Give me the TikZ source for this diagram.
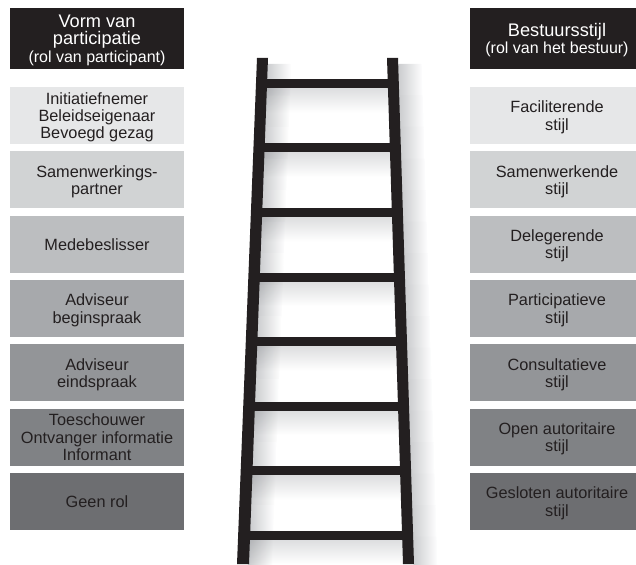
\documentclass[tikz,border=0pt]{standalone}
\usepackage{fontspec}
\setmainfont{Liberation Sans}
\definecolor{ink}{HTML}{231F20}
\definecolor{sh}{HTML}{B3B5B8}
\definecolor{ga}{HTML}{E6E7E8}
\definecolor{gb}{HTML}{D1D3D4}
\definecolor{gc}{HTML}{BCBEC0}
\definecolor{gd}{HTML}{A7A9AC}
\definecolor{ge}{HTML}{939598}
\definecolor{gf}{HTML}{808285}
\definecolor{gg}{HTML}{6D6E71}
\newcommand{\smallhead}[1]{\fontsize{#1}{17.5}\selectfont}
\tikzset{
  head/.style={fill=ink, text=white, inner sep=0pt, align=center, minimum height=61pt,
    minimum width=174pt, text depth=0pt, font=\fontsize{18.2}{17.5}\selectfont},
  cell/.style={inner sep=0pt, minimum width=174pt, minimum height=57pt, align=center, text=ink,
    text depth=0pt, font=\fontsize{16.3}{17.3}\selectfont},
}
\begin{document}
\begin{tikzpicture}[x=1pt,y=-1pt,
  declare function={xl(\t)=262.5-19.5*(\t-58)/506; xr(\t)=392.5+16*(\t-58)/506;}]
\useasboundingbox (0,0) rectangle (636,564);
\clip (0,0) rectangle (636,564);

% ---- ladder shadows ----
\foreach \i in {0,...,15}{
  \pgfmathsetmacro\ya{64+\i*31.5}
  \pgfmathsetmacro\yb{\ya+32.3}
  \shade[left color=sh!70, middle color=sh, right color=white]
    ({xl(\ya)+5},\ya) -- ({xl(\ya)+29},\ya) -- ({xl(\yb)+29},\yb) -- ({xl(\yb)+5},\yb) -- cycle;
  \shade[left color=sh!70, middle color=sh, right color=white]
    ({xr(\ya)+5},\ya) -- ({xr(\ya)+29},\ya) -- ({xr(\yb)+29},\yb) -- ({xr(\yb)+5},\yb) -- cycle;
}
\foreach \r in {83.5,148,212.5,277,341.5,406,470.5,535}{
  \shade[top color=sh!45, middle color=sh!85, bottom color=white, blend mode=multiply]
    ({xl(\r)},\r+4.5) rectangle ({xr(\r)},\r+29);
}
% ---- rungs ----
\foreach \r in {83.5,148,212.5,277,341.5,406,470.5,535}{
  \fill[ink] ({xl(\r)},\r-4.5) rectangle ({xr(\r)},\r+4.5);
}
% ---- rails ----
\fill[ink] (257,58) -- (268,58) -- (249,564) -- (237,564) -- cycle;
\fill[ink] (387,58) -- (398,58) -- (414,564) -- (403,564) -- cycle;

% ---- headers ----
\node[head] (lh) at (97,38.5)
  {Vorm van\\participatie\\\smallhead{16}(rol van participant)};
\node[head] (rh) at (557,38.5)
  {\raisebox{-1.2pt}{Bestuursstijl}\\[1pt]\smallhead{16}(rol van het bestuur)};

% ---- left column ----
\node[cell, fill=ga] (l1) at (97,115.5) {Initiatiefnemer\\Beleidseigenaar\\Bevoegd gezag};
\node[cell, fill=gb] (l2) at (97,179.8) {Samenwerkings-\\partner};
\node[cell, fill=gc] (l3) at (97,244.2) {Medebeslisser};
\node[cell, fill=gd] (l4) at (97,308.5) {Adviseur\\beginspraak};
\node[cell, fill=ge] (l5) at (97,372.8) {Adviseur\\eindspraak};
\node[cell, fill=gf] (l6) at (97,437.2) {Toeschouwer\\Ontvanger informatie\\Informant};
\node[cell, fill=gg] (l7) at (97,501.5) {Geen rol};

% ---- right column ----
\node[cell, fill=ga] (r1) at (557,115.5) {Faciliterende\\stijl};
\node[cell, fill=gb] (r2) at (557,179.8) {Samenwerkende\\stijl};
\node[cell, fill=gc] (r3) at (557,244.2) {Delegerende\\stijl};
\node[cell, fill=gd] (r4) at (557,308.5) {Participatieve\\stijl};
\node[cell, fill=ge] (r5) at (557,372.8) {Consultatieve\\stijl};
\node[cell, fill=gf] (r6) at (557,437.2) {Open autoritaire\\stijl};
\node[cell, fill=gg] (r7) at (557,501.5) {Gesloten autoritaire\\stijl};
\end{tikzpicture}
\end{document}
